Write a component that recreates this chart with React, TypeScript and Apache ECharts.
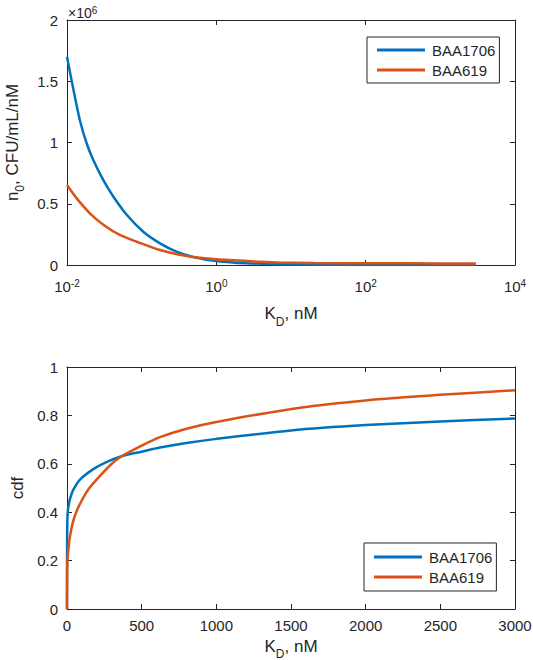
import React, { useEffect, useRef } from "react";
import * as echarts from "echarts";

// Top panel: n0 vs KD (log x)
const blueKTop = [0.01, 0.0122, 0.0149, 0.0184, 0.0225, 0.0308, 0.0419, 0.063, 0.105, 0.176, 0.293, 0.49, 1, 2.5, 10, 100, 1000, 3000];
const blueN0 = [1.70e6, 1.43e6, 1.18e6, 0.99e6, 0.857e6, 0.69e6, 0.557e6, 0.41e6, 0.272e6, 0.177e6, 0.109e6, 0.066e6, 0.033e6, 0.014e6, 0.004e6, 0.001e6, 0.0003e6, 0.0001e6];
const orangeKTop = [0.01, 0.0135, 0.0204, 0.031, 0.051, 0.086, 0.176, 0.4, 1, 3.85, 7, 20, 100, 1000, 3000];
const orangeN0 = [0.653e6, 0.544e6, 0.42e6, 0.327e6, 0.245e6, 0.19e6, 0.122e6, 0.073e6, 0.046e6, 0.027e6, 0.02e6, 0.016e6, 0.014e6, 0.013e6, 0.013e6];

// Bottom panel: cdf vs KD (linear x)
const blueKBot = [0, 0.5, 2, 5, 10, 20, 40, 87, 176, 250, 366, 500, 623, 800, 1000, 1500, 2000, 2500, 3000];
const blueCdf = [0, 0.25, 0.36, 0.4, 0.425, 0.455, 0.49, 0.535, 0.578, 0.603, 0.631, 0.65, 0.667, 0.686, 0.703, 0.738, 0.76, 0.775, 0.787];
const orangeKBot = [0, 1, 3, 10, 20, 40, 65, 100, 150, 221, 300, 366, 500, 623, 800, 1000, 1560, 2000, 2500, 3000];
const orangeCdf = [0, 0.15, 0.2, 0.25, 0.3, 0.36, 0.405, 0.45, 0.5, 0.55, 0.6, 0.631, 0.675, 0.71, 0.745, 0.773, 0.832, 0.862, 0.885, 0.904];

const seriesNames = ["BAA1706", "BAA619"];
const colors = ["#0072BD", "#D95319"];

const AX = "#262626";
const FONT = "Liberation Sans, Arial, sans-serif";
const TICK_FS = 15;
const TITLE_FS = 17;

const zip = (xs: number[], ys: number[]) => xs.map((x, i) => [x, ys[i]]);

const supRich = {
  b: { fontSize: TICK_FS, color: AX, fontFamily: FONT, padding: [6, 0, 0, 0], lineHeight: TICK_FS },
  s: { fontSize: 10, color: AX, fontFamily: FONT, lineHeight: 10 },
};
const makeSub = (drop: number) => ({
  b: { fontSize: TITLE_FS, color: AX, fontFamily: FONT, lineHeight: TITLE_FS },
  s: { fontSize: 12, color: AX, fontFamily: FONT, padding: [drop, 0, 0, 0], lineHeight: 12 },
});

export default function App() {
  const ref = useRef<HTMLDivElement>(null);
  useEffect(() => {
    const chart = echarts.init(ref.current!, undefined, { renderer: "svg" });
    const tick = { show: true, inside: true, length: 5, lineStyle: { color: AX, width: 1 } };
    const line = { show: true, onZero: false, lineStyle: { color: AX, width: 1 } };
    const label = { color: AX, fontSize: TICK_FS, fontFamily: FONT, margin: 9 };
    const hidden = { show: false };
    const logX = (gridIndex: number, position: string, showLabel: boolean) => ({
      type: "log",
      logBase: 10,
      gridIndex,
      position,
      min: 0.01,
      max: 10000,
      interval: 2,
      axisLine: line,
      axisTick: tick,
      splitLine: hidden,
      minorTick: hidden,
      axisLabel: showLabel
        ? {
            margin: 11,
            formatter: (v: number) => `{b|10}{s|${Math.round(Math.log10(v))}}`,
            rich: supRich,
          }
        : hidden,
      ...(showLabel
        ? {
            name: "{b|K}{s|D}{b|, nM}",
            nameLocation: "middle",
            nameGap: 40,
            nameTextStyle: { rich: makeSub(16) },
          }
        : {}),
    });
    const linX = (gridIndex: number, position: string, showLabel: boolean) => ({
      type: "value",
      gridIndex,
      position,
      min: 0,
      max: 3000,
      interval: 500,
      axisLine: line,
      axisTick: tick,
      splitLine: hidden,
      axisLabel: showLabel ? { ...label, formatter: (v: number) => String(v) } : hidden,
      ...(showLabel
        ? {
            name: "{b|K}{s|D}{b|, nM}",
            nameLocation: "middle",
            nameGap: 24,
            nameTextStyle: { rich: makeSub(14) },
          }
        : {}),
    });
    const yAx = (gridIndex: number, position: string, showLabel: boolean, max: number, interval: number, fmt: (v: number) => string, name?: any) => ({
      type: "value",
      gridIndex,
      position,
      min: 0,
      max,
      interval,
      axisLine: line,
      axisTick: tick,
      splitLine: hidden,
      axisLabel: showLabel ? { ...label, formatter: fmt } : hidden,
      ...(name || {}),
    });
    const legendBase = {
      orient: "vertical",
      data: seriesNames,
      itemWidth: 48,
      itemHeight: 3,
      itemGap: 4,
      icon: "rect",
      borderColor: AX,
      borderWidth: 1,
      backgroundColor: "#fff",
      textStyle: { color: AX, fontSize: TICK_FS, fontFamily: FONT, lineHeight: 16, padding: [0, 0, 0, 2] },
    };

    const option = {
      animation: false,
      backgroundColor: "#fff",
      grid: [
        { left: 67, right: 18, top: 20, height: 245, containLabel: false, outerBoundsMode: "none" },
        { left: 67, right: 18, top: 367, height: 242, containLabel: false, outerBoundsMode: "none" },
      ],
      xAxis: [logX(0, "bottom", true), logX(0, "top", false), linX(1, "bottom", true), linX(1, "top", false)],
      yAxis: [
        yAx(0, "left", true, 2e6, 0.5e6, (v) => String(v / 1e6), {
          name: "{b|n}{s|0}{b|, CFU/mL/nM}",
          nameLocation: "middle",
          nameGap: 28,
          nameRotate: 90,
          nameTextStyle: { rich: makeSub(16) },
        }),
        yAx(0, "right", false, 2e6, 0.5e6, (v) => String(v)),
        yAx(1, "left", true, 1, 0.2, (v) => String(Math.round(v * 10) / 10), {
          name: "cdf",
          nameLocation: "middle",
          nameGap: 36,
          nameRotate: 90,
          nameTextStyle: { color: AX, fontSize: TITLE_FS, fontFamily: FONT },
        }),
        yAx(1, "right", false, 1, 0.2, (v) => String(v)),
      ],
      legend: [
        { ...legendBase, left: 367, top: 37, padding: [5, 4, 5, 10] },
        { ...legendBase, left: 364, top: 543, padding: [6, 4, 6, 10] },
      ],
      graphic: [
        {
          type: "text",
          left: 68,
          top: 1,
          style: {
            text: "{b|×10}{s|6}",
            rich: {
              b: { fontSize: 14, fill: AX, fontFamily: FONT, padding: [5, 0, 0, 0], lineHeight: 14 },
              s: { fontSize: 10, fill: AX, fontFamily: FONT, lineHeight: 10 },
            },
          },
        },
      ],
      series: [
        { idx: 0, x: 0, d: zip(blueKTop, blueN0) },
        { idx: 1, x: 0, d: zip(orangeKTop, orangeN0) },
        { idx: 0, x: 2, d: zip(blueKBot, blueCdf) },
        { idx: 1, x: 2, d: zip(orangeKBot, orangeCdf) },
      ].map((s) => ({
        name: seriesNames[s.idx],
        type: "line",
        xAxisIndex: s.x,
        yAxisIndex: s.x,
        data: s.d,
        showSymbol: false,
        smooth: 0.25,
        color: colors[s.idx],
        lineStyle: { width: 2.5, color: colors[s.idx] },
      })),
    };
    chart.setOption(option as any);
    return () => chart.dispose();
  }, []);
  return <div ref={ref} style={{ position: "absolute", left: 0, top: 0, width: 533, height: 660 }} />;
}
